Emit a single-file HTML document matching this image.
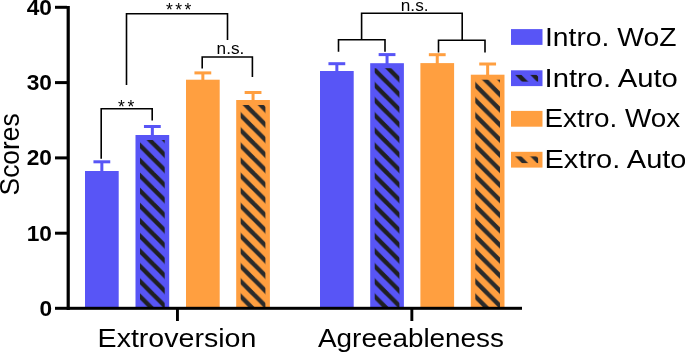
<!DOCTYPE html>
<html><head><meta charset="utf-8"><style>html,body{margin:0;padding:0;background:#fff;overflow:hidden}svg{display:block;will-change:transform}</style></head>
<body><svg width="685" height="352" viewBox="0 0 685 352">
<defs><pattern id="p1" patternUnits="userSpaceOnUse" x="140.0" y="307.0" width="15.1" height="15.1"><rect width="15.1" height="15.1" fill="#5855F6"/><polygon points="-52.9,-30.2 -46.7,-30.2 13.7,30.2 7.5,30.2" fill="#1f1f22"/><polygon points="-37.8,-30.2 -31.6,-30.2 28.799999999999997,30.2 22.6,30.2" fill="#1f1f22"/><polygon points="-22.7,-30.2 -16.5,-30.2 43.9,30.2 37.7,30.2" fill="#1f1f22"/><polygon points="-7.599999999999998,-30.2 -1.4000000000000021,-30.2 59.0,30.2 52.8,30.2" fill="#1f1f22"/><polygon points="7.5000000000000036,-30.2 13.7,-30.2 74.1,30.2 67.9,30.2" fill="#1f1f22"/></pattern><pattern id="p3" patternUnits="userSpaceOnUse" x="240.7" y="307.0" width="15.1" height="15.1"><rect width="15.1" height="15.1" fill="#FF9F40"/><polygon points="-52.9,-30.2 -46.7,-30.2 13.7,30.2 7.5,30.2" fill="#2b2b2b"/><polygon points="-37.8,-30.2 -31.6,-30.2 28.799999999999997,30.2 22.6,30.2" fill="#2b2b2b"/><polygon points="-22.7,-30.2 -16.5,-30.2 43.9,30.2 37.7,30.2" fill="#2b2b2b"/><polygon points="-7.599999999999998,-30.2 -1.4000000000000021,-30.2 59.0,30.2 52.8,30.2" fill="#2b2b2b"/><polygon points="7.5000000000000036,-30.2 13.7,-30.2 74.1,30.2 67.9,30.2" fill="#2b2b2b"/></pattern><pattern id="p5" patternUnits="userSpaceOnUse" x="374.7" y="307.0" width="15.1" height="15.1"><rect width="15.1" height="15.1" fill="#5855F6"/><polygon points="-52.9,-30.2 -46.7,-30.2 13.7,30.2 7.5,30.2" fill="#1f1f22"/><polygon points="-37.8,-30.2 -31.6,-30.2 28.799999999999997,30.2 22.6,30.2" fill="#1f1f22"/><polygon points="-22.7,-30.2 -16.5,-30.2 43.9,30.2 37.7,30.2" fill="#1f1f22"/><polygon points="-7.599999999999998,-30.2 -1.4000000000000021,-30.2 59.0,30.2 52.8,30.2" fill="#1f1f22"/><polygon points="7.5000000000000036,-30.2 13.7,-30.2 74.1,30.2 67.9,30.2" fill="#1f1f22"/></pattern><pattern id="p7" patternUnits="userSpaceOnUse" x="475.3" y="307.0" width="15.1" height="15.1"><rect width="15.1" height="15.1" fill="#FF9F40"/><polygon points="-52.9,-30.2 -46.7,-30.2 13.7,30.2 7.5,30.2" fill="#2b2b2b"/><polygon points="-37.8,-30.2 -31.6,-30.2 28.799999999999997,30.2 22.6,30.2" fill="#2b2b2b"/><polygon points="-22.7,-30.2 -16.5,-30.2 43.9,30.2 37.7,30.2" fill="#2b2b2b"/><polygon points="-7.599999999999998,-30.2 -1.4000000000000021,-30.2 59.0,30.2 52.8,30.2" fill="#2b2b2b"/><polygon points="7.5000000000000036,-30.2 13.7,-30.2 74.1,30.2 67.9,30.2" fill="#2b2b2b"/></pattern><pattern id="lp1" patternUnits="userSpaceOnUse" x="514.4" y="81.6" width="15.1" height="15.1"><rect width="15.1" height="15.1" fill="#5855F6"/><polygon points="-52.9,-30.2 -46.7,-30.2 13.7,30.2 7.5,30.2" fill="#1f1f22"/><polygon points="-37.8,-30.2 -31.6,-30.2 28.799999999999997,30.2 22.6,30.2" fill="#1f1f22"/><polygon points="-22.7,-30.2 -16.5,-30.2 43.9,30.2 37.7,30.2" fill="#1f1f22"/><polygon points="-7.599999999999998,-30.2 -1.4000000000000021,-30.2 59.0,30.2 52.8,30.2" fill="#1f1f22"/><polygon points="7.5000000000000036,-30.2 13.7,-30.2 74.1,30.2 67.9,30.2" fill="#1f1f22"/></pattern><pattern id="lp3" patternUnits="userSpaceOnUse" x="514.4" y="163.10000000000002" width="15.1" height="15.1"><rect width="15.1" height="15.1" fill="#FF9F40"/><polygon points="-52.9,-30.2 -46.7,-30.2 13.7,30.2 7.5,30.2" fill="#2b2b2b"/><polygon points="-37.8,-30.2 -31.6,-30.2 28.799999999999997,30.2 22.6,30.2" fill="#2b2b2b"/><polygon points="-22.7,-30.2 -16.5,-30.2 43.9,30.2 37.7,30.2" fill="#2b2b2b"/><polygon points="-7.599999999999998,-30.2 -1.4000000000000021,-30.2 59.0,30.2 52.8,30.2" fill="#2b2b2b"/><polygon points="7.5000000000000036,-30.2 13.7,-30.2 74.1,30.2 67.9,30.2" fill="#2b2b2b"/></pattern></defs>
<rect width="685" height="352" fill="#fff"/>
<rect x="100.35" y="161.80" width="3" height="10.20" fill="#5855F6"/>
<rect x="93.45" y="160.30" width="16.8" height="3" fill="#5855F6"/>
<rect x="85.00" y="171.00" width="33.7" height="137.50" fill="#5855F6"/>
<rect x="150.85" y="126.50" width="3" height="9.50" fill="#5855F6"/>
<rect x="143.95" y="125.00" width="16.8" height="3" fill="#5855F6"/>
<rect x="135.50" y="135.00" width="33.7" height="173.50" fill="#5855F6"/>
<rect x="140.00" y="140.00" width="24.70" height="168.50" fill="url(#p1)"/>
<rect x="201.35" y="72.90" width="3" height="7.80" fill="#FF9F40"/>
<rect x="194.45" y="71.40" width="16.8" height="3" fill="#FF9F40"/>
<rect x="186.00" y="79.70" width="33.7" height="228.80" fill="#FF9F40"/>
<rect x="251.55" y="92.50" width="3" height="8.50" fill="#FF9F40"/>
<rect x="244.65" y="91.00" width="16.8" height="3" fill="#FF9F40"/>
<rect x="236.20" y="100.00" width="33.7" height="208.50" fill="#FF9F40"/>
<rect x="240.70" y="105.00" width="24.70" height="203.50" fill="url(#p3)"/>
<rect x="335.35" y="63.70" width="3" height="8.30" fill="#5855F6"/>
<rect x="328.45" y="62.20" width="16.8" height="3" fill="#5855F6"/>
<rect x="320.00" y="71.00" width="33.7" height="237.50" fill="#5855F6"/>
<rect x="385.55" y="54.60" width="3" height="9.60" fill="#5855F6"/>
<rect x="378.65" y="53.10" width="16.8" height="3" fill="#5855F6"/>
<rect x="370.20" y="63.20" width="33.7" height="245.30" fill="#5855F6"/>
<rect x="374.70" y="68.20" width="24.70" height="240.30" fill="url(#p5)"/>
<rect x="435.75" y="54.70" width="3" height="9.40" fill="#FF9F40"/>
<rect x="428.85" y="53.20" width="16.8" height="3" fill="#FF9F40"/>
<rect x="420.40" y="63.10" width="33.7" height="245.40" fill="#FF9F40"/>
<rect x="486.15" y="64.00" width="3" height="11.70" fill="#FF9F40"/>
<rect x="479.25" y="62.50" width="16.8" height="3" fill="#FF9F40"/>
<rect x="470.80" y="74.70" width="33.7" height="233.80" fill="#FF9F40"/>
<rect x="475.30" y="79.70" width="24.70" height="228.80" fill="url(#p7)"/>
<rect x="511" y="29.1" width="31.5" height="15.8" fill="#5855F6"/>
<rect x="511" y="70.3" width="31.5" height="15.8" fill="#5855F6"/>
<rect x="515.1" y="74.89999999999999" width="23" height="6.700000000000001" fill="url(#lp1)"/>
<rect x="511" y="110.9" width="31.5" height="15.8" fill="#FF9F40"/>
<rect x="511" y="151.8" width="31.5" height="15.8" fill="#FF9F40"/>
<rect x="515.1" y="156.4" width="23" height="6.700000000000001" fill="url(#lp3)"/>
<g fill="none" stroke="#000" stroke-width="1.6">
<path d="M101.2,158.8 V108.8 H152.2 V120.4"/>
<path d="M126.5,85 V13.8 H227.5 V39.9"/>
<path d="M202.2,68.6 V57 H252.4 V76.9"/>
<path d="M361.6,40 V13.3 H462.2 V40"/>
<path d="M338.5,51.7 V39.8 H385 V51.7"/>
<path d="M438.5,52.4 V40.3 H485 V52.4"/>
</g>
<g fill="#000" stroke="none">
<rect x="66.6" y="6" width="3.2" height="304"/>
<rect x="55" y="306.8" width="467" height="3"/>
<rect x="55" y="5.8" width="12" height="3"/>
<rect x="55" y="81.1" width="12" height="3"/>
<rect x="55" y="156.4" width="12" height="3"/>
<rect x="55" y="231.7" width="12" height="3"/>
<rect x="176" y="309" width="2.9" height="12"/>
<rect x="410.4" y="309" width="2.9" height="12"/>
</g>
<g font-family="Liberation Sans, sans-serif" fill="#000">
<g font-weight="bold" font-size="22.7" text-anchor="end">
<text x="52" y="14.7">40</text>
<text x="52" y="90.0">30</text>
<text x="52" y="165.3">20</text>
<text x="52" y="240.6">10</text>
<text x="52" y="315.9">0</text>
</g>
<g font-size="18">
<text x="118.0" y="112.8" font-size="17.5" letter-spacing="2.8">**</text>
<text x="166.1" y="15.9" font-size="17.5" letter-spacing="2.4">***</text>
<text x="216.6" y="53.9" font-size="17.2">n.s.</text>
<text x="400.8" y="10.8" font-size="17.2">n.s.</text>
</g>
<g font-size="26">
<text x="545" y="45.8" textLength="131.4" lengthAdjust="spacingAndGlyphs">Intro. WoZ</text>
<text x="544.6" y="86.5" textLength="133.3" lengthAdjust="spacingAndGlyphs">Intro. Auto</text>
<text x="544.5" y="127.3" textLength="135.7" lengthAdjust="spacingAndGlyphs">Extro. Wox</text>
<text x="544.5" y="168.2" textLength="142" lengthAdjust="spacingAndGlyphs">Extro. Auto</text>
<text x="97.6" y="346.8" textLength="158.7" lengthAdjust="spacingAndGlyphs">Extroversion</text>
<text x="318" y="346.5" textLength="186" lengthAdjust="spacingAndGlyphs">Agreeableness</text>
</g>
<text font-size="27" textLength="82" lengthAdjust="spacingAndGlyphs" transform="translate(18.8,195.4) rotate(-90)">Scores</text>
</g>
</svg></body></html>
